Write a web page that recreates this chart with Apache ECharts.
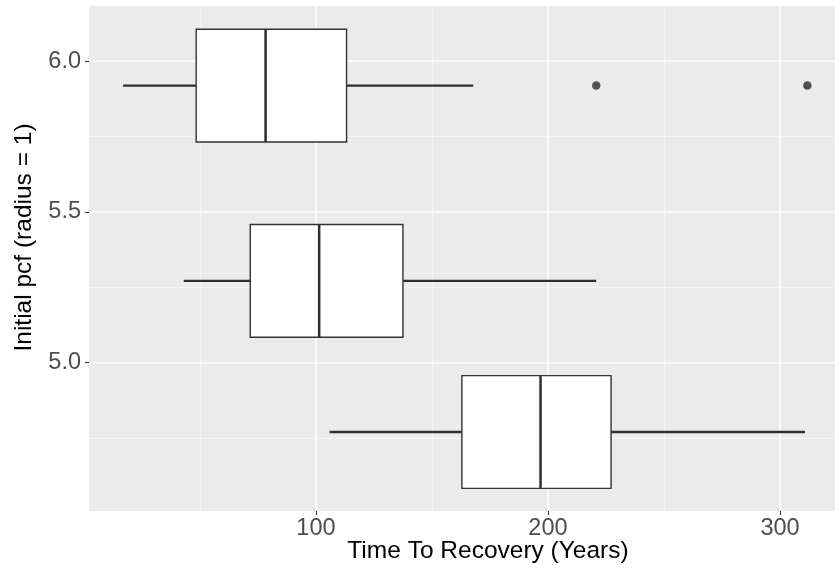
<!DOCTYPE html>
<html>
<head>
<meta charset="utf-8">
<title>Time To Recovery by Initial pcf</title>
<script src="https://cdn.jsdelivr.net/npm/echarts@6/dist/echarts.min.js"></script>
<style>
  html, body { margin: 0; padding: 0; background: #ffffff; }
  #chart { width: 835px; height: 569px; }
</style>
</head>
<body>
<div id="chart"></div>
<script>
// Initial pcf level of each group (y position of each box)
const pcfLevels = [5.919, 5.2715, 4.770];
// Five-number summaries of Time To Recovery (Years) per group
const whiskerLow = [16.9, 43.0, 105.9];
const q1 = [48.4, 71.7, 162.9];
const median = [78.3, 101.4, 196.8];
const q3 = [113.2, 137.5, 227.2];
const whiskerHigh = [167.8, 220.8, 310.8];
// Points beyond the whiskers
const outlierTimes = [220.8, 311.8];
const outlierPcf = [5.919, 5.919];
// Axis ticks
const xMajorTicks = [100, 200, 300];
const xMinorTicks = [50, 150, 250];
const yMajorTicks = [5.0, 5.5, 6.0];
const yMinorTicks = [4.75, 5.25, 5.75];

const BOX_HEIGHT = 0.374; // box thickness in pcf units
const FONT = '"Liberation Sans", Arial, sans-serif';
const INK = '#333333';

const boxData = pcfLevels.map((p, i) => [p, whiskerLow[i], q1[i], median[i], q3[i], whiskerHigh[i]]);
const outlierData = outlierTimes.map((t, i) => [t, outlierPcf[i]]);

function renderBox(params, api) {
  const y = api.value(0);
  const pLo = api.coord([api.value(1), y]);
  const pQ1 = api.coord([api.value(2), y]);
  const pMed = api.coord([api.value(3), y]);
  const pQ3 = api.coord([api.value(4), y]);
  const pHi = api.coord([api.value(5), y]);
  const h = api.size([0, BOX_HEIGHT])[1];
  const cy = pQ1[1];
  return {
    type: 'group',
    children: [
      { type: 'line', shape: { x1: pLo[0], y1: cy, x2: pQ1[0], y2: cy },
        style: { stroke: '#2e2e2e', lineWidth: 2.3 } },
      { type: 'line', shape: { x1: pQ3[0], y1: cy, x2: pHi[0], y2: cy },
        style: { stroke: '#2e2e2e', lineWidth: 2.3 } },
      { type: 'rect', shape: { x: pQ1[0], y: cy - h / 2, width: pQ3[0] - pQ1[0], height: h },
        style: { fill: '#ffffff', stroke: INK, lineWidth: 1.4 } },
      { type: 'line', shape: { x1: pMed[0], y1: cy - h / 2, x2: pMed[0], y2: cy + h / 2 },
        style: { stroke: '#2e2e2e', lineWidth: 2.5 } }
    ]
  };
}

const X_MIN = 2.2, X_MAX = 323.7;
const Y_MIN = 4.508, Y_MAX = 6.183;

const chart = echarts.init(document.getElementById('chart'), null, { renderer: 'canvas' });
chart.setOption({
  animation: false,
  backgroundColor: '#ffffff',
  grid: {
    left: 89, right: 0, top: 6, bottom: 58,
    outerBoundsMode: 'none',
    containLabel: false,
    show: true, backgroundColor: '#EBEBEB', borderWidth: 0
  },
  xAxis: [
    {
      type: 'value', min: X_MIN, max: X_MAX, position: 'bottom',
      axisLine: { show: false },
      axisTick: { show: true, customValues: xMajorTicks, length: 4, lineStyle: { color: INK, width: 1.1 } },
      axisLabel: { customValues: xMajorTicks, margin: 6, color: '#4D4D4D', fontSize: 23.5, fontFamily: FONT,
        formatter: v => String(v) },
      splitLine: { show: true, lineStyle: { color: '#ffffff', width: 1.5 } },
      name: 'Time To Recovery (Years)', nameLocation: 'middle', nameGap: 28, nameMoveOverlap: false,
      nameTextStyle: { color: '#000000', fontSize: 24.5, fontFamily: FONT, padding: [0, 0, 0, 52] }
    },
    {
      type: 'value', min: X_MIN, max: X_MAX, position: 'bottom',
      axisLine: { show: false },
      axisTick: { show: false, customValues: xMinorTicks },
      axisLabel: { show: false, customValues: xMinorTicks },
      splitLine: { show: true, lineStyle: { color: '#F6F6F6', width: 0.8 } }
    }
  ],
  yAxis: [
    {
      type: 'value', min: Y_MIN, max: Y_MAX,
      axisLine: { show: false },
      axisTick: { show: true, customValues: yMajorTicks, length: 4, lineStyle: { color: INK, width: 1.1 } },
      axisLabel: { customValues: yMajorTicks, margin: 8, color: '#4D4D4D', fontSize: 23.5, fontFamily: FONT,
        formatter: v => v.toFixed(1) },
      splitLine: { show: true, lineStyle: { color: '#ffffff', width: 1.5 } },
      name: 'Initial pcf (radius = 1)', nameLocation: 'middle', nameGap: 52, nameRotate: 90, nameMoveOverlap: false,
      nameTextStyle: { color: '#000000', fontSize: 24.5, fontFamily: FONT, padding: [0, 0, 0, 42] }
    },
    {
      type: 'value', min: Y_MIN, max: Y_MAX,
      axisLine: { show: false },
      axisTick: { show: false, customValues: yMinorTicks },
      axisLabel: { show: false, customValues: yMinorTicks },
      splitLine: { show: true, lineStyle: { color: '#F6F6F6', width: 0.8 } }
    }
  ],
  series: [
    {
      type: 'custom',
      xAxisIndex: 0, yAxisIndex: 0,
      renderItem: renderBox,
      encode: { x: [1, 2, 3, 4, 5], y: 0 },
      data: boxData,
      z: 5
    },
    {
      type: 'scatter',
      xAxisIndex: 0, yAxisIndex: 0,
      data: outlierData,
      symbol: 'circle', symbolSize: 8.5,
      itemStyle: { color: '#2b2b2b' },
      z: 6
    }
  ]
});
</script>
</body>
</html>
